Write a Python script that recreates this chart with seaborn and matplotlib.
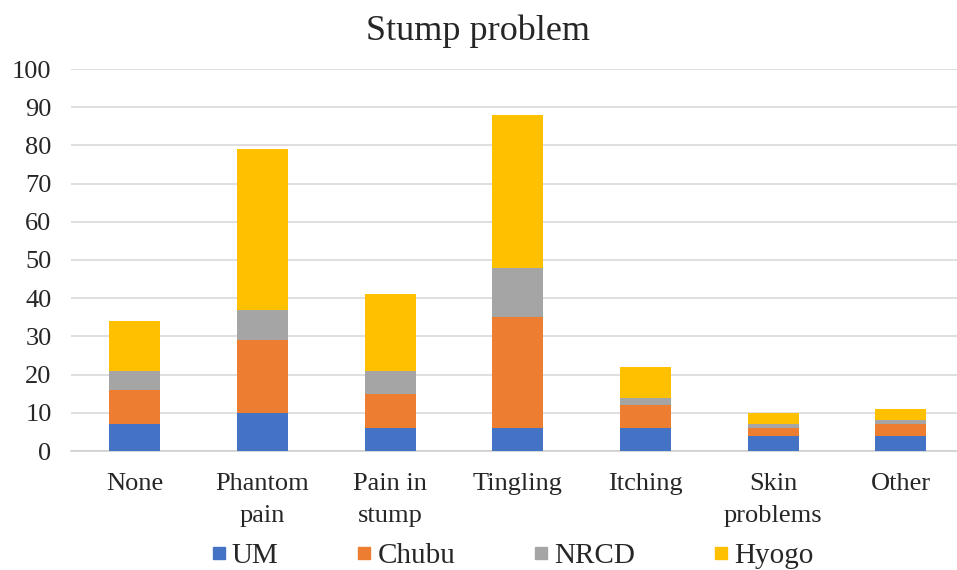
import numpy as np
import pandas as pd
import matplotlib
matplotlib.use("Agg")
import matplotlib.pyplot as plt
from matplotlib.lines import Line2D
import seaborn as sns

categories = ["None", "Phantom\npain", "Pain in\nstump", "Tingling", "Itching", "Skin\nproblems", "Other"]
um = [7, 10, 6, 6, 6, 4, 4]
chubu = [9, 19, 9, 29, 6, 2, 3]
nrcd = [5, 8, 6, 13, 2, 1, 1]
hyogo = [13, 42, 20, 40, 8, 3, 3]
series_names = ["UM", "Chubu", "NRCD", "Hyogo"]
colors = ["#4472C4", "#ED7D31", "#A5A5A5", "#FFC000"]
yticks = list(range(0, 101, 10))

sns.set_theme(style="white")
plt.rcParams["font.family"] = ["Liberation Serif", "DejaVu Serif"]

fig = plt.figure(figsize=(9.57, 5.70), dpi=100)
ax = fig.add_axes([71 / 957, 1 - 451 / 570, 1 - 71 / 957, (451 - 69) / 570])

# stacked bars: draw cumulative totals from the top segment down
stack = np.array([um, chubu, nrcd, hyogo], dtype=float)
cum = np.cumsum(stack, axis=0)
for i in range(len(series_names) - 1, -1, -1):
    df = pd.DataFrame({"cat": categories, "val": cum[i]})
    sns.barplot(data=df, x="cat", y="val", color=colors[i], saturation=1,
                width=0.4, ax=ax, zorder=3, linewidth=0)

ax.set_xlim(-0.5, 6.44)
ax.set_ylim(0, 100)
ax.set_yticks(yticks)
ax.set_yticklabels([str(t) for t in yticks], fontsize=19)
ax.tick_params(axis="x", labelsize=19, length=0, pad=16)
ax.tick_params(axis="y", length=0, pad=14)
ax.set_xlabel("")
ax.set_ylabel("")
ax.yaxis.grid(True, color="#D9D9D9", linewidth=1.2, zorder=0)
ax.set_axisbelow(True)
for s in ["top", "right", "left"]:
    ax.spines[s].set_visible(False)
ax.spines["bottom"].set_color("#D0D0D0")
ax.spines["bottom"].set_linewidth(1.2)
for lbl in ax.get_xticklabels():
    lbl.set_linespacing(1.55)

fig.text(0.5, 1 - 31 / 570, "Stump problem", ha="center", va="center", fontsize=26)

handles = [Line2D([0], [0], marker="s", linestyle="none", markersize=8,
                  markerfacecolor=c, markeredgecolor=c) for c in colors]
fig.legend(handles, series_names, loc="center left",
           bbox_to_anchor=(207 / 957, 1 - 556 / 570),
           ncol=4, frameon=False, fontsize=21, handletextpad=0.05,
           columnspacing=2.54, handlelength=0.8, borderpad=0, borderaxespad=0)

fig.savefig("out.png", dpi=100)
